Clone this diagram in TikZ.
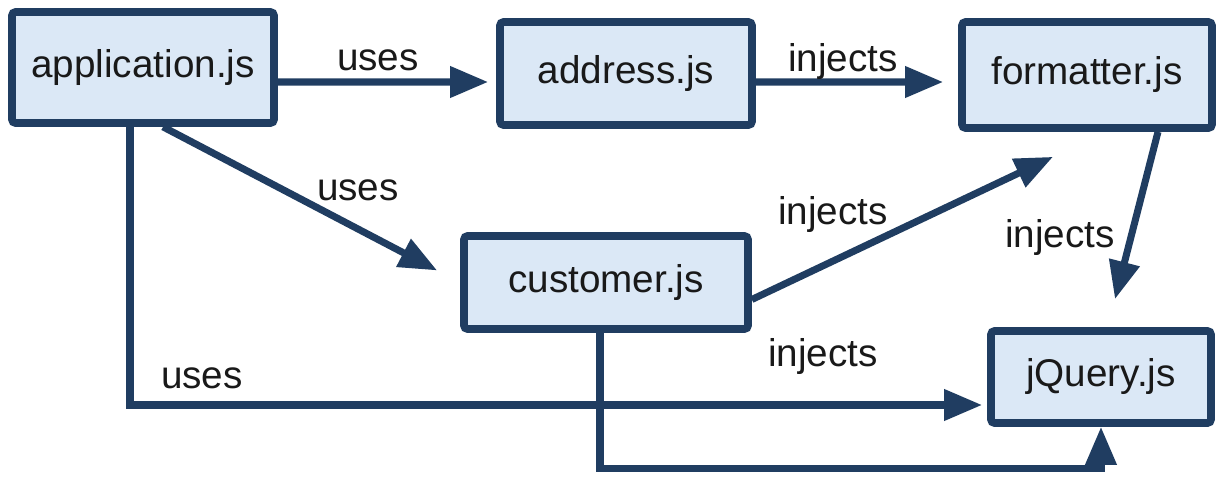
\documentclass[tikz,border=0pt]{standalone}
\usepackage{fontspec}
\setmainfont{Liberation Sans}
\usetikzlibrary{arrows.meta}
\definecolor{modline}{RGB}{32,61,97}
\definecolor{modfill}{RGB}{219,232,246}
\begin{document}
\begin{tikzpicture}[x=0.02cm,y=-0.02cm,
		module/.style={draw=modline, fill=modfill, line width=4.4pt, rounded corners=2pt,
			font=\fontsize{22}{26}\selectfont, text=black!90, inner sep=0pt},
		flow/.style={draw=modline, line width=4pt,
			-{Triangle[length=0.76cm, width=0.6cm]}},
		lbl/.style={font=\fontsize{22}{26}\selectfont, text=black!90, inner sep=0pt}]
		\useasboundingbox (0,0) rectangle (1225,477);
		% modules
		\node[module, minimum width=5.24cm, minimum height=2.22cm] at (143,67.5)(app){application.js};
		\node[module, minimum width=5.04cm, minimum height=2.06cm] at (626,73.5)(addr){address.js};
		\node[module, minimum width=5.0cm, minimum height=2.12cm] at (1087,75)(fmt){formatter.js};
		\node[module, minimum width=5.68cm, minimum height=1.86cm] at (606,282.5)(cust){customer.js};
		\node[module, minimum width=4.4cm, minimum height=1.84cm] at (1101,377)(jq){jQuery.js};
		% dependencies
		\draw[flow, shorten >=0.16cm] ([yshift=-0.29cm]app.east) -- ([yshift=-0.17cm]addr.west);
		\draw[flow, shorten >=0.3cm] ([yshift=-0.17cm]addr.east) -- ([yshift=-0.14cm]fmt.west);
		\draw[flow, shorten >=0.52cm] ([xshift=0.4cm]app.south) -- (cust.west);
		\draw[flow] ([yshift=-0.34cm]cust.east) -- ([xshift=-0.68cm,yshift=-0.5cm]fmt.south);
		\draw[flow] ([xshift=1.42cm]fmt.south) -- ([xshift=0.28cm,yshift=0.56cm]jq.north);
		\draw[flow, shorten >=0.1cm] ([xshift=-0.26cm]app.south) |- ([yshift=-0.56cm]jq.west);
		\draw[flow] ([xshift=-0.12cm]cust.south) |- ([yshift=-0.84cm]jq.south) -- (jq.south);
		% labels
		\node[lbl] at (378,60)(u1){uses};
		\node[lbl] at (843,62)(i1){injects};
		\node[lbl] at (358,190)(u2){uses};
		\node[lbl] at (833,215)(i2){injects};
		\node[lbl] at (1060,238)(i3){injects};
		\node[lbl] at (823,357)(i4){injects};
		\node[lbl] at (202,378)(u3){uses};
	\end{tikzpicture}
\end{document}
